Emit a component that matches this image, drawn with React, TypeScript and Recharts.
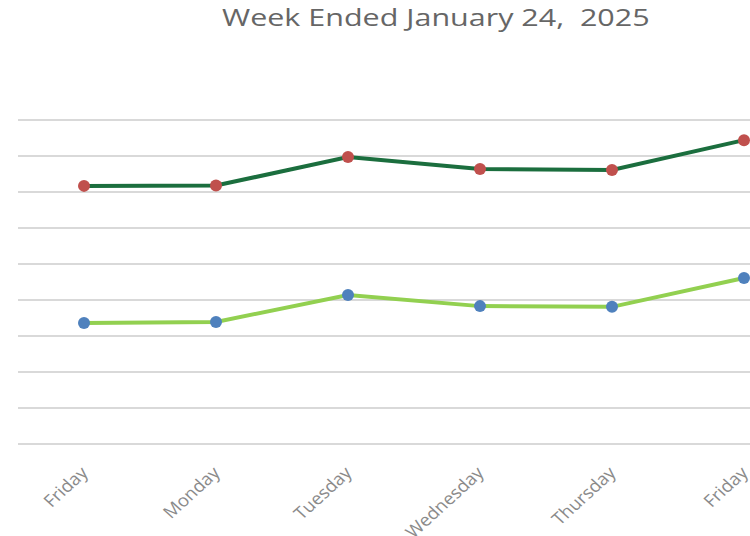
import { LineChart, Line, XAxis, YAxis, CartesianGrid } from "recharts";

const days = ["Friday", "Monday", "Tuesday", "Wednesday", "Thursday", "Friday"];
const upperSeries = [7.17, 7.18, 7.97, 7.64, 7.61, 8.44];
const lowerSeries = [3.36, 3.39, 4.14, 3.83, 3.81, 4.61];
const yTicks = [0, 1, 2, 3, 4, 5, 6, 7, 8, 9];

const chartData = days.map((day, i) => ({
  key: i,
  day,
  upper: upperSeries[i],
  lower: lowerSeries[i],
}));

// the source picture is stretched sideways a bit, so labels get the same squash
function DayTick(props: any) {
  const { x, y, payload } = props;
  const label = days[payload.value];
  const ax = x + 5;
  const ay = y + 22;
  return (
    <text
      x={0}
      y={0}
      transform={`translate(${ax}, ${ay}) scale(1.1, 1) rotate(-45)`}
      textAnchor="end"
      fill="#8a8a8a"
      fontSize={17}
      fontFamily="'Open Sans', sans-serif"
    >
      {label}
    </text>
  );
}

export default function App() {
  return (
    <div
      style={{
        position: "absolute",
        left: 0,
        top: 0,
        width: 750,
        height: 536,
        overflow: "hidden",
        background: "#fff",
      }}
    >
      <div
        style={{
          position: "absolute",
          left: 222,
          top: 0,
          fontFamily: "'Open Sans', sans-serif",
          fontSize: 24,
          color: "#666666",
          whiteSpace: "pre",
          transform: "scaleX(1.27)",
          transformOrigin: "left top",
        }}
      >
        {"Week Ended January 24,  2025"}
      </div>

      <LineChart
        width={750}
        height={536}
        data={chartData}
        margin={{ top: 120, right: 0, bottom: 62, left: 18 }}
      >
        <CartesianGrid vertical={false} stroke="#d9d9d9" strokeWidth={2} />
        <XAxis
          dataKey="key"
          type="category"
          height={30}
          axisLine={false}
          tickLine={false}
          interval={0}
          padding={{ left: 66, right: 6 }}
          tick={<DayTick />}
        />
        <YAxis hide width={0} domain={[0, 9]} ticks={yTicks} />
        <Line
          dataKey="upper"
          stroke="#1b6e3e"
          strokeWidth={4}
          dot={{ r: 6, fill: "#c0504d", stroke: "#c0504d", strokeWidth: 0 }}
          isAnimationActive={false}
        />
        <Line
          dataKey="lower"
          stroke="#92d050"
          strokeWidth={4}
          dot={{ r: 6, fill: "#4f81bd", stroke: "#4f81bd", strokeWidth: 0 }}
          isAnimationActive={false}
        />
      </LineChart>
    </div>
  );
}
